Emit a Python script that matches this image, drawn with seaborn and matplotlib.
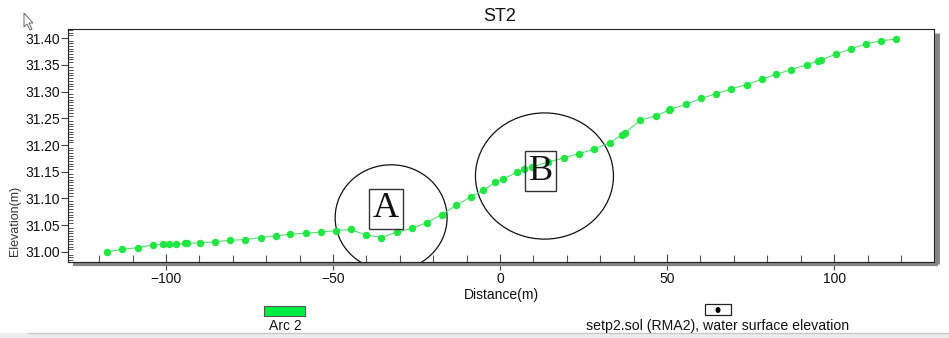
import matplotlib
matplotlib.use("Agg")
import matplotlib.pyplot as plt
import seaborn as sns
import pandas as pd
from matplotlib.patches import Ellipse, Rectangle, Polygon
from matplotlib.ticker import MultipleLocator, FormatStrFormatter

# profile ST2
distance = [-117.6, -113.1, -108.5, -103.9, -101.0, -99.1, -97.1, -94.3, -93.6, -89.9,
            -85.3, -80.8, -76.3, -71.5, -67.2, -62.8, -58.1, -53.6, -49.1, -44.7,
            -40.2, -35.6, -30.9, -26.3, -21.9, -17.4, -13.1, -8.8, -5.2, -1.5,
            0.8, 5.1, 7.2, 9.6, 14.4, 19.2, 23.7, 28.1, 32.8, 36.4,
            37.4, 42.0, 46.7, 50.6, 51.0, 55.7, 60.2, 64.7, 69.2, 73.9,
            78.3, 82.6, 87.2, 91.8, 95.1, 96.0, 100.6, 105.1, 109.5, 114.0, 118.6]
elevation = [31.000, 31.005, 31.008, 31.013, 31.014, 31.015, 31.015, 31.016, 31.016, 31.017,
             31.019, 31.022, 31.023, 31.027, 31.030, 31.033, 31.035, 31.037, 31.040, 31.042,
             31.032, 31.027, 31.037, 31.044, 31.055, 31.070, 31.087, 31.103, 31.115, 31.130,
             31.136, 31.149, 31.155, 31.159, 31.168, 31.176, 31.184, 31.192, 31.204, 31.219,
             31.223, 31.246, 31.255, 31.265, 31.267, 31.276, 31.287, 31.296, 31.305, 31.313,
             31.323, 31.332, 31.341, 31.350, 31.357, 31.359, 31.370, 31.380, 31.389, 31.395, 31.398]

x_ticks = [-100, -50, 0, 50, 100]
y_ticks = [31.00, 31.05, 31.10, 31.15, 31.20, 31.25, 31.30, 31.35, 31.40]

# marked zones: label, centre (x, y), width, height, label position
zone_labels = ["A", "B"]
zone_centres = [(-32.6, 31.064), (13.3, 31.142)]
zone_sizes = [(33.5, 0.198), (41.3, 0.236)]
zone_text_pos = [(-34.1, 31.081), (12.2, 31.151)]

df = pd.DataFrame({"Distance": distance, "Elevation": elevation})

sns.set_theme(style="white")
plt.rcParams["font.family"] = ["Liberation Sans", "DejaVu Sans"]

GREEN = "#1fe640"

fig = plt.figure(figsize=(9.49, 3.38), dpi=100)
ax = fig.add_axes([0.0717, 0.225, 0.9125, 0.689])

sns.lineplot(data=df, x="Distance", y="Elevation", sort=False, ax=ax,
             color="#55dd70", linewidth=0.8, marker="o", markersize=4.6,
             markerfacecolor=GREEN, markeredgecolor=GREEN)

ax.set_xlim(-129.3, 129.9)
ax.set_ylim(30.9813, 31.4168)
ax.set_xticks(x_ticks)
ax.set_yticks(y_ticks)
ax.xaxis.set_minor_locator(MultipleLocator(10))
ax.yaxis.set_minor_locator(MultipleLocator(0.005))
ax.yaxis.set_major_formatter(FormatStrFormatter("%.2f"))

ax.tick_params(axis="x", which="major", direction="inout", length=11, width=0.8,
               color="#444444", labelsize=10, pad=2, bottom=True)
ax.tick_params(axis="x", which="minor", direction="in", length=5, width=0.8,
               color="#555555", bottom=True)
ax.tick_params(axis="y", which="major", direction="out", length=5, width=0.8,
               color="#444444", labelsize=10, pad=1, left=True)
ax.tick_params(axis="y", which="minor", direction="in", length=3.5, width=0.7,
               color="#555555", left=True)
for lab in ax.get_xticklabels() + ax.get_yticklabels():
    lab.set_color("#111111")

for side in ["top", "left", "right", "bottom"]:
    ax.spines[side].set_color("#222222")
    ax.spines[side].set_linewidth(0.8)

# grey drop shadow along bottom and right edges
ax.plot([0.006, 1.0046], [-0.0086, -0.0086], transform=ax.transAxes, clip_on=False,
        color="#858585", linewidth=3, solid_capstyle="butt")
ax.plot([1.0035, 1.0035], [0.983, -0.0086], transform=ax.transAxes, clip_on=False,
        color="#858585", linewidth=3.5, solid_capstyle="butt")

ax.set_xlabel("Distance(m)", fontsize=10, color="#111111", labelpad=1)
ax.set_ylabel("")
fig.text(0.016, 0.345, "Elevation(m)", rotation=90, fontsize=9, color="#333333",
         ha="center", va="center")
fig.text(0.527, 0.952, "ST2", fontsize=13, color="#111111", ha="center", va="center")

# circled zones
for lab, c, (w, h), tp in zip(zone_labels, zone_centres, zone_sizes, zone_text_pos):
    ax.add_patch(Ellipse(c, w, h, fill=False, edgecolor="#111111", linewidth=0.9))
    ax.text(tp[0], tp[1], lab, fontsize=26, family="Liberation Serif", color="#111111",
            ha="center", va="center",
            bbox=dict(boxstyle="square,pad=0.1", facecolor="none",
                      edgecolor="#333333", linewidth=1))

# legend strip below the plot
fig.add_artist(Rectangle((264 / 949, 1 - 316 / 338), 41 / 949, 10 / 338,
                         transform=fig.transFigure, facecolor="#00ee44",
                         edgecolor="#555555", linewidth=0.8))
fig.text(285 / 949, 1 - 326 / 338, "Arc 2", fontsize=10, color="#111111",
         ha="center", va="center")
fig.add_artist(Rectangle((705 / 949, 1 - 315 / 338), 26 / 949, 11 / 338,
                         transform=fig.transFigure, facecolor="white",
                         edgecolor="#222222", linewidth=0.9))
fig.add_artist(Ellipse((718 / 949, 1 - 310 / 338), 5 / 949, 6 / 338,
                       transform=fig.transFigure, facecolor="black", edgecolor="none"))
fig.text(718 / 949, 1 - 326 / 338, "setp2.sol (RMA2), water surface elevation",
         fontsize=10.2, color="#111111", ha="center", va="center")

# window status bar at the very bottom
fig.add_artist(Rectangle((0, 0), 1, 5 / 338, transform=fig.transFigure,
                         facecolor="#ececec", edgecolor="none"))
fig.add_artist(plt.Line2D([0.03, 1], [5 / 338, 5 / 338], transform=fig.transFigure,
                          color="#c8c8c8", linewidth=1))

# mouse pointer in the top-left corner
pts = [(24, 13), (24, 27), (27, 24), (30, 30), (32, 29), (29, 23), (33, 23)]
fig.add_artist(Polygon([(px / 949, 1 - py / 338) for px, py in pts], closed=True,
                       transform=fig.transFigure, facecolor="white",
                       edgecolor="#666666", linewidth=0.7))

fig.savefig("out.png", dpi=100)
